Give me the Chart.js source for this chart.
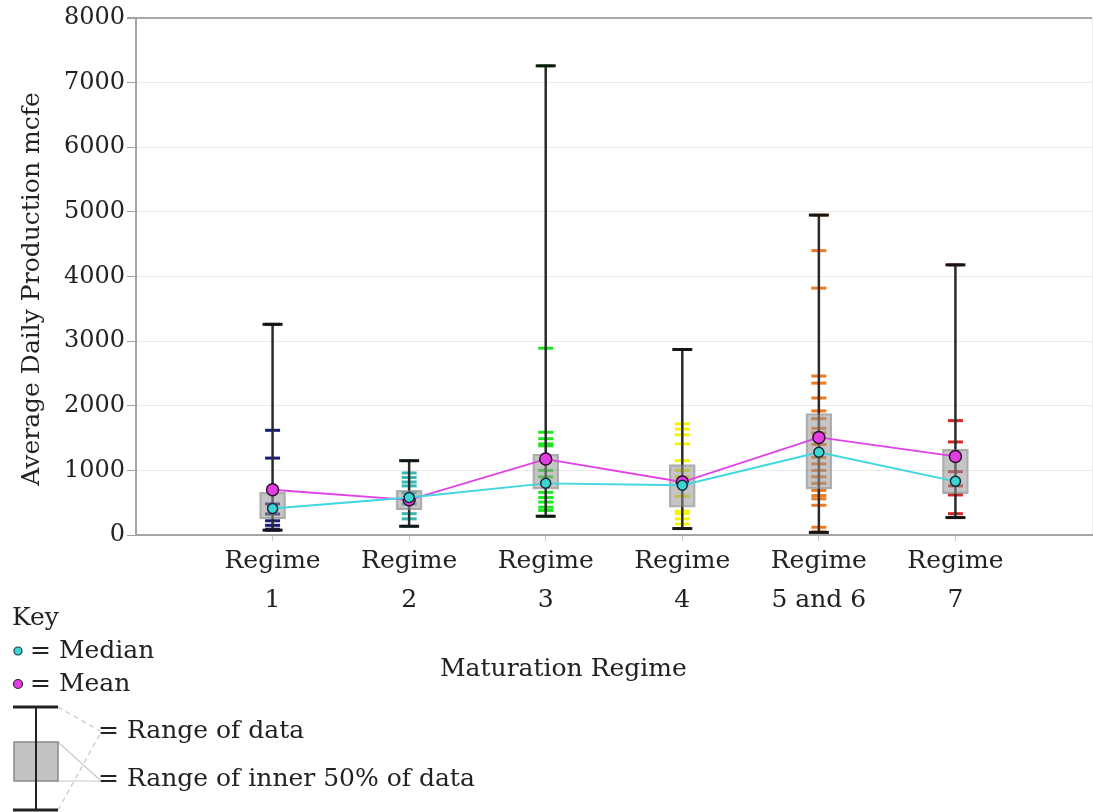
<!DOCTYPE html>
<html><head><meta charset="utf-8">
<script src="https://cdn.jsdelivr.net/npm/chart.js@4.4.0/dist/chart.umd.min.js"></script>
<style>
html,body{margin:0;padding:0;background:#fff;overflow:hidden;}
#wrap{position:relative;width:1093px;height:812px;overflow:hidden;}
canvas{position:absolute;left:0;top:0;}
svg{position:absolute;left:0;top:0;}
.t{position:absolute;font-family:'DejaVu Serif',serif;font-size:25px;color:#222;white-space:nowrap;line-height:25px;}
#ytitle{position:absolute;left:30px;top:289px;transform:translate(-50%,-50%) rotate(-90deg);transform-origin:center center;}
</style></head><body>
<div id="wrap">
<canvas id="c" width="1093" height="812"></canvas>
<svg width="1093" height="812">
  <circle cx="18" cy="651" r="4" fill="#3fd4d4" stroke="#1a3a4a" stroke-width="1.2"/>
  <circle cx="18" cy="684" r="4.5" fill="#e23ee2" stroke="#3a1a3a" stroke-width="1.2"/>
  <line x1="58" y1="707" x2="100" y2="731" stroke="#c8c8c8" stroke-width="1.2" stroke-dasharray="5,4"/>
  <line x1="58" y1="810" x2="100" y2="734" stroke="#c8c8c8" stroke-width="1.2" stroke-dasharray="5,4"/>
  <line x1="58" y1="742" x2="100" y2="780" stroke="#c8c8c8" stroke-width="1.2"/>
  <line x1="58" y1="781" x2="100" y2="781" stroke="#c8c8c8" stroke-width="1.2"/>
  <rect x="14" y="742" width="44" height="39" fill="#c2c2c2" stroke="#8a8a8a" stroke-width="1.5"/>
  <line x1="13" y1="707" x2="58" y2="707" stroke="#222" stroke-width="3"/>
  <line x1="36" y1="707" x2="36" y2="810" stroke="#222" stroke-width="2"/>
  <line x1="13" y1="810" x2="58" y2="810" stroke="#222" stroke-width="3"/>
</svg>
<div class="t" id="ytitle">Average Daily Production mcfe</div>
<div class="t" style="left:12px;top:604px">Key</div>
<div class="t" style="left:30px;top:637px">= Median</div>
<div class="t" style="left:30px;top:670px">= Mean</div>
<div class="t" style="left:98px;top:717px">= Range of data</div>
<div class="t" style="left:98px;top:765px">= Range of inner 50% of data</div>
<div class="t" style="left:440px;top:655px">Maturation Regime</div>
</div>
<script>
// ---- data ----
const categories = ['Regime 1', 'Regime 2', 'Regime 3', 'Regime 4', 'Regime 5 and 6', 'Regime 7'];
const tickLines = [['Regime', '1'], ['Regime', '2'], ['Regime', '3'], ['Regime', '4'], ['Regime', '5 and 6'], ['Regime', '7']];
const yTickValues = [0, 1000, 2000, 3000, 4000, 5000, 6000, 7000, 8000];
const rangeMin = [75, 135, 290, 100, 40, 270];
const rangeMax = [3260, 1150, 7260, 2870, 4950, 4180];
const q1 = [250, 390, 710, 430, 710, 640];
const q3 = [660, 690, 1250, 1090, 1880, 1330];
const medians = [410, 580, 800, 770, 1280, 830];
const means = [700, 545, 1175, 820, 1510, 1215];
const pointsRegime1 = [3260, 1620, 1190, 480, 325, 220, 150, 90, 75];
const pointsRegime2 = [1150, 960, 890, 820, 760, 650, 480, 330, 250, 135];
const pointsRegime3 = [7260, 2890, 1590, 1490, 1410, 1380, 1000, 900, 660, 580, 510, 430, 380, 290];
const pointsRegime4 = [2870, 1720, 1640, 1550, 1410, 1150, 1000, 900, 600, 370, 330, 250, 170, 100];
const pointsRegime56 = [4950, 4400, 3820, 2460, 2350, 2120, 1920, 1800, 1650, 1580, 1400, 1200, 1100, 1000, 900, 800, 690, 610, 560, 460, 120, 50];
const pointsRegime7 = [4180, 1770, 1440, 980, 760, 620, 330, 270];
const regimeColors = ['#1c1c7a', '#38b8b0', '#1fe61f', '#f4f400', '#f07a1e', '#d42828'];

// ---- build datasets ----
const FONT = 'DejaVu Serif';
const pointSets = [pointsRegime1, pointsRegime2, pointsRegime3, pointsRegime4, pointsRegime56, pointsRegime7];
const datasets = [];

pointSets.forEach((arr, i) => {
  datasets.push({
    type: 'scatter', order: 10,
    data: arr.map(v => ({x: i + 1, y: v})),
    pointStyle: 'line', pointRadius: 7.5, pointBorderWidth: 3,
    borderColor: regimeColors[i], backgroundColor: regimeColors[i],
    pointHoverRadius: 7.5
  });
});

const whiskerData = [];
categories.forEach((c, i) => {
  whiskerData.push({x: i + 1, y: rangeMin[i]}, {x: i + 1, y: rangeMax[i]}, {x: i + 1, y: null});
});
datasets.push({
  type: 'line', order: 9, data: whiskerData, spanGaps: false,
  borderColor: '#2a2a2a', borderWidth: 2.5, pointRadius: 0, fill: false
});

const capData = [];
categories.forEach((c, i) => {
  capData.push({x: i + 1, y: rangeMin[i]}, {x: i + 1, y: rangeMax[i]});
});
datasets.push({
  type: 'scatter', order: 8, data: capData,
  pointStyle: 'line', pointRadius: 10, pointBorderWidth: 3,
  borderColor: '#151515', backgroundColor: '#151515'
});

datasets.push({
  type: 'bar', order: 7,
  data: categories.map((c, i) => ({x: i + 1, y: [q1[i], q3[i]]})),
  barThickness: 26, backgroundColor: 'rgba(150,150,150,0.55)',
  borderColor: 'rgba(125,125,125,0.6)', borderWidth: 1.5, borderSkipped: false
});

datasets.push({
  type: 'line', order: 2, label: 'Mean',
  data: categories.map((c, i) => ({x: i + 1, y: means[i]})),
  borderColor: '#e040e6', borderWidth: 1.8, fill: false, tension: 0,
  pointRadius: 6, pointBackgroundColor: '#e23ee2', pointBorderColor: '#2a102a', pointBorderWidth: 1.5
});
datasets.push({
  type: 'line', order: 1, label: 'Median',
  data: categories.map((c, i) => ({x: i + 1, y: medians[i]})),
  borderColor: '#40d6e0', borderWidth: 1.8, fill: false, tension: 0,
  pointRadius: 5, pointBackgroundColor: '#3fd4d4', pointBorderColor: '#102a34', pointBorderWidth: 1.5
});

new Chart(document.getElementById('c'), {
  type: 'scatter',
  data: {datasets},
  options: {
    responsive: false, animation: false, devicePixelRatio: 1,
    layout: {autoPadding: false, padding: {top: 18, right: 1, left: 0, bottom: 0}},
    plugins: {legend: {display: false}, tooltip: {enabled: false}},
    events: [],
    scales: {
      x: {
        type: 'linear', min: 0, max: 7, offset: false,
        afterBuildTicks: s => { s.ticks = [0, 1, 2, 3, 4, 5, 6, 7].map(v => ({value: v})); },
        afterFit: s => { s.height = 277; s.paddingLeft = 0; s.paddingRight = 0; },
        ticks: {
          autoSkip: false, maxRotation: 0, minRotation: 0, padding: 1, color: '#222',
          font: {family: FONT, size: 25, lineHeight: 1.56},
          callback: v => (v >= 1 && v <= 6) ? tickLines[v - 1] : ''
        },
        grid: {
          offset: false,
          color: ctx => (ctx.tick && ctx.tick.value === 7) ? '#ececec' : 'rgba(0,0,0,0)',
          tickColor: ctx => (ctx.tick && ctx.tick.value >= 1 && ctx.tick.value <= 6) ? '#c8c8c8' : 'rgba(0,0,0,0)',
          tickLength: 6
        },
        border: {color: '#a4a4a4', width: 2}
      },
      y: {
        min: 0, max: 8000,
        afterBuildTicks: s => { s.ticks = yTickValues.map(v => ({value: v})); },
        afterFit: s => { s.width = 136; },
        ticks: {color: '#222', padding: 2, font: {family: FONT, size: 24}, callback: v => String(v)},
        grid: {
          color: ctx => (ctx.tick && ctx.tick.value === 8000) ? '#a8a8a8' : '#ebebeb',
          lineWidth: ctx => (ctx.tick && ctx.tick.value === 8000) ? 2 : 1,
          tickColor: '#a0a0a0', tickLength: 9
        },
        border: {color: '#a4a4a4', width: 2},
        title: {display: false}
      }
    }
  }
});
</script>
</body></html>
